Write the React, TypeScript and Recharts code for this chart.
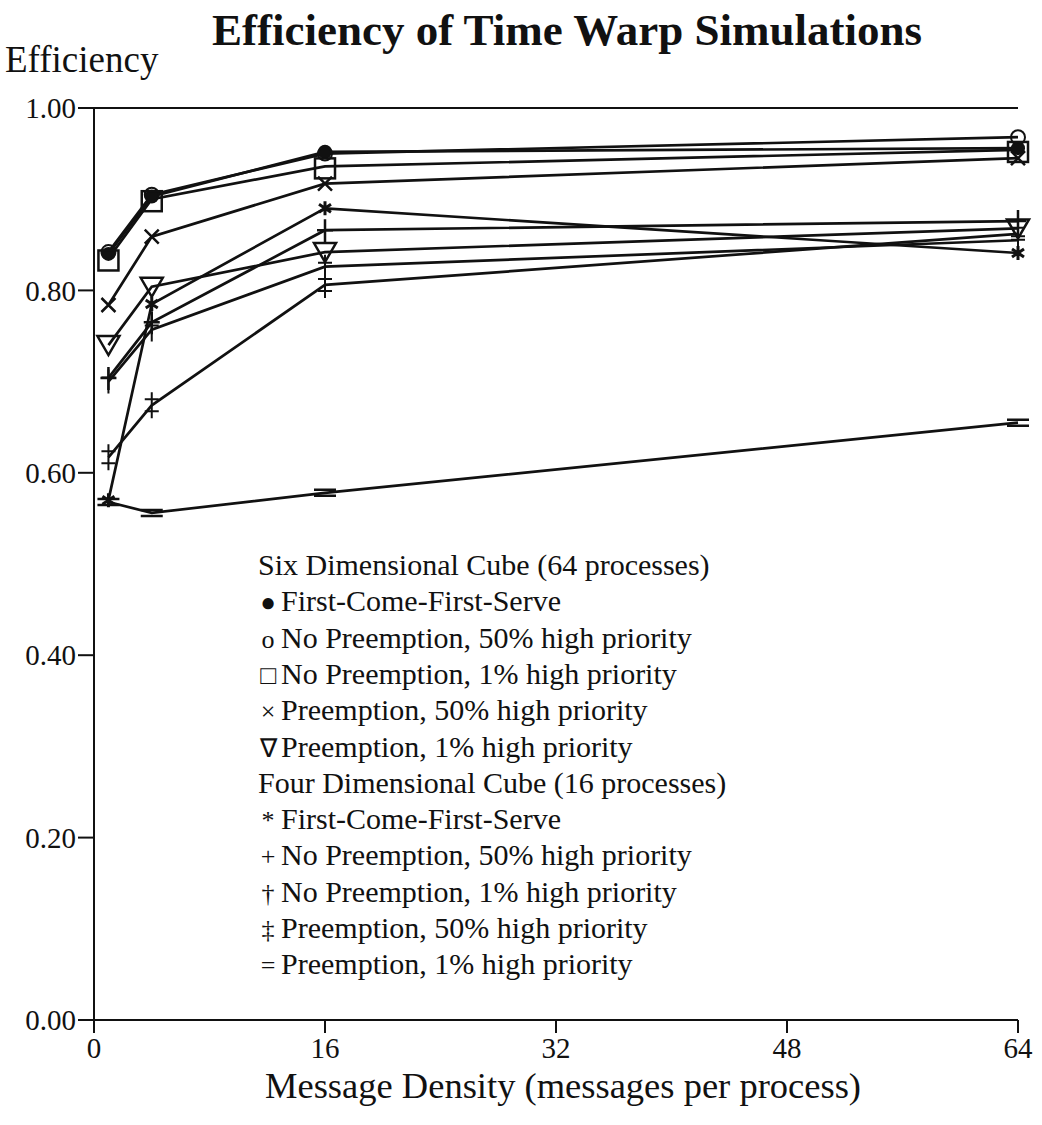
import React from "react";
import { LineChart, Line, XAxis, YAxis, ReferenceLine } from "recharts";

// message density (messages per process)
const densities = [1, 4, 16, 64];
const xTicks = [0, 16, 32, 48, 64];
const yTicks = [0, 0.2, 0.4, 0.6, 0.8, 1.0];

// six dimensional cube (64 processes)
const sixFcfs = [0.840, 0.903, 0.952, 0.956];
const sixNoPre50 = [0.842, 0.905, 0.950, 0.968];
const sixNoPre1 = [0.835, 0.900, 0.936, 0.954];
const sixPre50 = [0.784, 0.859, 0.917, 0.945];
const sixPre1 = [0.740, 0.804, 0.842, 0.868];

// four dimensional cube (16 processes)
const fourFcfs = [0.570, 0.785, 0.890, 0.841];
const fourNoPre50 = [0.704, 0.765, 0.866, 0.876];
const fourNoPre1 = [0.700, 0.757, 0.826, 0.855];
const fourPre50 = [0.617, 0.674, 0.806, 0.862];
const fourPre1 = [0.568, 0.556, 0.578, 0.655];

const seriesList = [
  { key: "sixFcfs", values: sixFcfs, marker: "disc" },
  { key: "sixNoPre50", values: sixNoPre50, marker: "ring" },
  { key: "sixNoPre1", values: sixNoPre1, marker: "square" },
  { key: "sixPre50", values: sixPre50, marker: "cross" },
  { key: "sixPre1", values: sixPre1, marker: "nabla" },
  { key: "fourFcfs", values: fourFcfs, marker: "star" },
  { key: "fourNoPre50", values: fourNoPre50, marker: "plus" },
  { key: "fourNoPre1", values: fourNoPre1, marker: "dagger" },
  { key: "fourPre50", values: fourPre50, marker: "ddagger" },
  { key: "fourPre1", values: fourPre1, marker: "equals" },
];

const legendLines = [
  { mark: "", text: "Six Dimensional Cube (64 processes)" },
  { mark: "\u25CF", text: "First-Come-First-Serve" },
  { mark: "o", text: "No Preemption, 50% high priority" },
  { mark: "\u25A1", text: "No Preemption, 1% high priority" },
  { mark: "\u00D7", text: "Preemption, 50% high priority" },
  { mark: "\u2207", text: "Preemption, 1% high priority" },
  { mark: "", text: "Four Dimensional Cube (16 processes)" },
  { mark: "*", text: "First-Come-First-Serve" },
  { mark: "+", text: "No Preemption, 50% high priority" },
  { mark: "\u2020", text: "No Preemption, 1% high priority" },
  { mark: "\u2021", text: "Preemption, 50% high priority" },
  { mark: "=", text: "Preemption, 1% high priority" },
];

const data = densities.map((x, i) => {
  const row: Record<string, number> = { x };
  seriesList.forEach((s) => (row[s.key] = s.values[i]));
  return row;
});

const FONT = '"Liberation Serif", "Times New Roman", serif';
const INK = "#111";

function makeDot(marker: string) {
  return (props: any) => {
    const { cx, cy, index } = props;
    const k = `${marker}-${index}`;
    const sw = 2.5;
    switch (marker) {
      case "disc":
        return <circle key={k} cx={cx} cy={cy} r={7} fill={INK} />;
      case "ring":
        return <circle key={k} cx={cx} cy={cy} r={7} fill="none" stroke={INK} strokeWidth={2} />;
      case "square":
        return <rect key={k} x={cx - 10} y={cy - 8} width={20} height={20} fill="none" stroke={INK} strokeWidth={sw} />;
      case "cross":
        return (
          <path key={k} d={`M${cx - 7},${cy - 7}L${cx + 7},${cy + 7}M${cx - 7},${cy + 7}L${cx + 7},${cy - 7}`} stroke={INK} strokeWidth={sw} />
        );
      case "nabla":
        return (
          <path key={k} d={`M${cx - 11},${cy - 9}L${cx + 11},${cy - 9}L${cx},${cy + 10}Z`} fill="none" stroke={INK} strokeWidth={sw} />
        );
      case "star":
        return (
          <path key={k} d={`M${cx},${cy - 7}L${cx},${cy + 7}M${cx - 6},${cy - 4}L${cx + 6},${cy + 4}M${cx - 6},${cy + 4}L${cx + 6},${cy - 4}`} stroke={INK} strokeWidth={3} />
        );
      case "plus":
        return (
          <path key={k} d={`M${cx - 8},${cy}L${cx + 8},${cy}M${cx},${cy - 11}L${cx},${cy + 12}`} stroke={INK} strokeWidth={sw} />
        );
      case "dagger":
        return (
          <path key={k} d={`M${cx},${cy - 12}L${cx},${cy + 12}M${cx - 7},${cy - 4}L${cx + 7},${cy - 4}`} stroke={INK} strokeWidth={2} />
        );
      case "ddagger":
        return (
          <path key={k} d={`M${cx},${cy - 13}L${cx},${cy + 13}M${cx - 7},${cy - 6}L${cx + 7},${cy - 6}M${cx - 7},${cy + 6}L${cx + 7},${cy + 6}`} stroke={INK} strokeWidth={2} />
        );
      default:
        return (
          <path key={k} d={`M${cx - 11},${cy - 3}L${cx + 11},${cy - 3}M${cx - 11},${cy + 3}L${cx + 11},${cy + 3}`} stroke={INK} strokeWidth={2.5} />
        );
    }
  };
}

export default function App() {
  return (
    <div style={{ position: "absolute", left: 0, top: 0, width: 1042, height: 1125, background: "#fff", fontFamily: FONT }}>
      <LineChart width={1042} height={1125} data={data} margin={{ top: 108, right: 24, bottom: 60, left: 14 }}>
        <XAxis
          dataKey="x"
          type="number"
          domain={[0, 64]}
          ticks={xTicks}
          tickSize={13}
          tickMargin={4}
          height={45}
          stroke={INK}
          strokeWidth={2}
          tick={{ fill: INK, fontSize: 29, fontFamily: FONT }}
        />
        <YAxis
          type="number"
          domain={[0, 1]}
          ticks={yTicks}
          tickFormatter={(v: number) => v.toFixed(2)}
          width={80}
          tickSize={16}
          tickMargin={2}
          stroke={INK}
          strokeWidth={2}
          tick={{ fill: INK, fontSize: 29, fontFamily: FONT }}
        />
        <YAxis
          yAxisId="right"
          orientation="right"
          type="number"
          domain={[0, 1]}
          ticks={yTicks}
          width={0}
          mirror
          tick={false}
          tickSize={13}
          stroke={INK}
          strokeWidth={2}
        />
        <ReferenceLine y={1} stroke={INK} strokeWidth={2} />
        {seriesList.map((s) => (
          <Line
            key={s.key}
            dataKey={s.key}
            type="linear"
            stroke={INK}
            strokeWidth={2.7}
            dot={makeDot(s.marker)}
            isAnimationActive={false}
          />
        ))}
      </LineChart>
      <svg width={1042} height={1125} style={{ position: "absolute", left: 0, top: 0, pointerEvents: "none" }}>
        <text x={567} y={45} textAnchor="middle" fontSize={45} fontWeight="bold" fontFamily={FONT} fill={INK}>
          Efficiency of Time Warp Simulations
        </text>
        <text x={5} y={72} fontSize={37} fontFamily={FONT} fill={INK}>
          Efficiency
        </text>
        <text x={563} y={1098} textAnchor="middle" fontSize={36.5} fontFamily={FONT} fill={INK}>
          Message Density (messages per process)
        </text>
        {legendLines.map((l, i) =>
          l.mark ? (
            <g key={i}>
              <text x={268} y={575 + i * 36.3} textAnchor="middle" fontSize={26} fontFamily={FONT} fill={INK}>
                {l.mark}
              </text>
              <text x={281} y={575 + i * 36.3} fontSize={30} fontFamily={FONT} fill={INK}>
                {l.text}
              </text>
            </g>
          ) : (
            <text key={i} x={258} y={575 + i * 36.3} fontSize={30} fontFamily={FONT} fill={INK}>
              {l.text}
            </text>
          )
        )}
      </svg>
    </div>
  );
}
